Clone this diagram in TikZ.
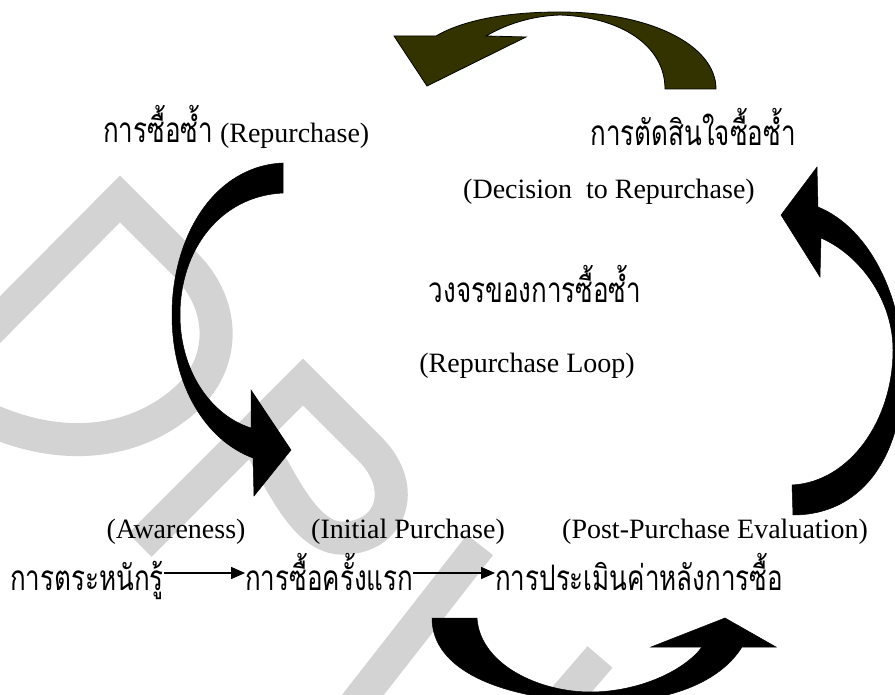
\documentclass[tikz,border=0pt]{standalone}
\usepackage{fontspec}
\setmainfont{Liberation Serif}
\newfontfamily\thaifont[Script=Thai]{Loma}
\usetikzlibrary{arrows.meta}
\definecolor{wmgrey}{RGB}{211,211,211}
\definecolor{olive}{RGB}{51,51,0}
\newcommand\thx[1]{\scalebox{1}[1.35]{\thaifont\fontsize{26}{32}\selectfont #1}}
\begin{document}
\begin{tikzpicture}[x=1pt,y=-1pt,
  lat/.style={font=\fontsize{28}{32}\selectfont, inner sep=0pt, anchor=base},
  th/.style={inner sep=0pt, anchor=base},
  wm/.style={draw=wmgrey, line width=33pt, line join=miter, line cap=butt},
  bigarrow/.style={fill=black, draw=black, line width=0.5pt},
  oarrow/.style={fill=olive, draw=black, line width=0.8pt},
  small/.style={line width=1.5pt, -{Triangle[length=14pt,width=12pt]}}]
\useasboundingbox (0,0) rectangle (895,695);
\begin{scope}
\clip (0,0) rectangle (895,695);
% watermark
\draw[wm] (-60,380) -- (120,199) -- (185,264) .. controls (228,307) and (225,365) .. (185,400) .. controls (140,440) and (70,455) .. (-10,420);
\draw[wm] (140,545) -- (303,382) -- (370,449) .. controls (410,489) and (390,540) .. (340,538) .. controls (300,536) and (275,465) .. (252,433);
\draw[wm] (480,545) -- (355,705);
\draw[wm] (600,657) -- (556,708);
% big arrows
\draw[oarrow] (665,89) -- (716,89) .. controls (716,45) and (650,12) .. (560,12) .. controls (500,12) and (460,22) .. (436,36) -- (394,36) -- (427,86) -- (526,37) -- (486,36) .. controls (505,25) and (530,16) .. (560,15) .. controls (620,17) and (665,45) .. (665,89) -- cycle;
\draw[bigarrow] (283,163) -- (283,193) .. controls (220,196) and (180,250) .. (180,315) .. controls (180,370) and (210,415) .. (251,428) -- (251,390) -- (291,450) -- (254,496) -- (253,458) .. controls (205,440) and (172,385) .. (172,315) .. controls (172,235) and (215,166) .. (283,163) -- cycle;
\draw[bigarrow] (792,485) -- (793,515) .. controls (860,515) and (900,460) .. (903,380) .. controls (906,300) and (870,228) .. (818,207) -- (817,167) -- (781,215) -- (820,277) -- (821,238) .. controls (860,255) and (893,300) .. (893,350) .. controls (893,420) and (850,482) .. (792,485) -- cycle;
\draw[bigarrow] (432,618) -- (477,618) .. controls (480,665) and (540,692) .. (590,692) .. controls (640,692) and (685,670) .. (702,647) -- (651,647) -- (725,618) -- (776,647) -- (742,647) .. controls (715,690) and (650,705) .. (590,702) .. controls (500,698) and (432,670) .. (432,618) -- cycle;
\end{scope}
% texts
\node[lat, anchor=base west] (rep) at (103,143) {\thx{การซื้อซ้ำ} (Repurchase)};
\node[th] (dec) at (693,146) {\thx{การตัดสินใจซื้อซ้ำ}};
\node[lat] (decen) at (609,199) {(Decision\ \ to Repurchase)};
\node[th] (loop) at (535,302) {\thx{วงจรของการซื้อซ้ำ}};
\node[lat] (loopen) at (527,372) {(Repurchase Loop)};
\node[lat] (awen) at (176,538) {(Awareness)};
\node[lat] (inen) at (408,538) {(Initial Purchase)};
\node[lat] (posten) at (715,538) {(Post-Purchase Evaluation)};
\node[th, anchor=base west] (awth) at (10,590) {\thx{การตระหนักรู้}};
\node[th, anchor=base west] (inth) at (245,590) {\thx{การซื้อครั้งแรก}};
\node[th, anchor=base west] (postth) at (495,590) {\thx{การประเมินค่าหลังการซื้อ}};
\draw[small] (awth.east |- 0,573) -- (inth.west |- 0,573);
\draw[small] (inth.east |- 0,573) -- (postth.west |- 0,573);
\end{tikzpicture}
\end{document}
